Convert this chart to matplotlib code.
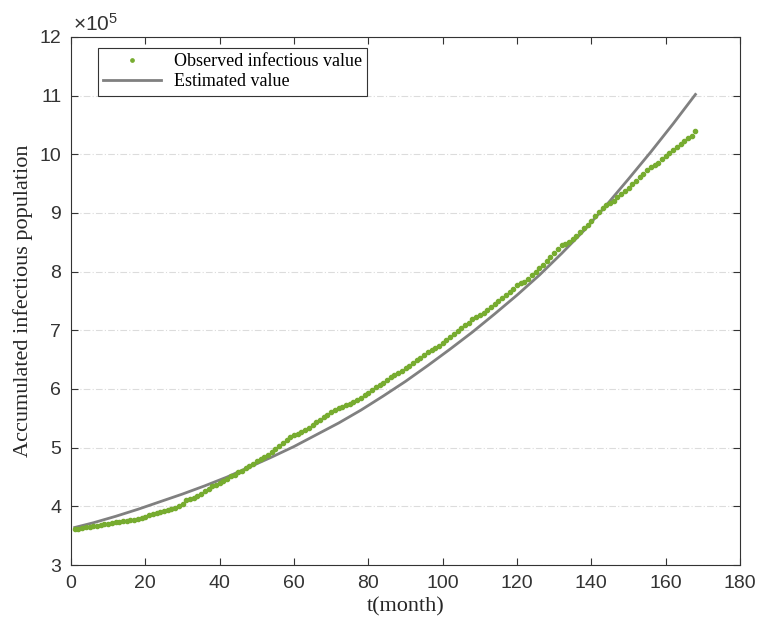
import numpy as np
import matplotlib
matplotlib.use("Agg")
import matplotlib.pyplot as plt

plt.rcParams['font.family'] = ['Liberation Sans', 'DejaVu Sans']
plt.rcParams['mathtext.fontset'] = 'custom'
plt.rcParams['mathtext.rm'] = 'Liberation Sans'
plt.rcParams['mathtext.it'] = 'Liberation Sans:italic'

# observed accumulated infections (x 10^5), months 1..168
observed = [
    3.610, 3.620, 3.630, 3.640, 3.650, 3.660, 3.670, 3.680, 3.695, 3.705, 3.715, 3.725,
    3.735, 3.745, 3.755, 3.765, 3.775, 3.790, 3.805, 3.825, 3.845, 3.865, 3.885, 3.905,
    3.92, 3.94, 3.96, 3.98, 4.00, 4.04, 4.10, 4.13, 4.15, 4.17, 4.21, 4.26,
    4.30, 4.34, 4.37, 4.40, 4.43, 4.47, 4.51, 4.54, 4.58, 4.61, 4.65, 4.69,
    4.72, 4.77, 4.81, 4.84, 4.88, 4.93, 4.98, 5.03, 5.08, 5.13, 5.18, 5.21,
    5.24, 5.26, 5.30, 5.34, 5.38, 5.44, 5.48, 5.52, 5.56, 5.60, 5.64, 5.67,
    5.70, 5.72, 5.74, 5.78, 5.81, 5.85, 5.90, 5.94, 5.99, 6.03, 6.07, 6.11,
    6.16, 6.20, 6.24, 6.27, 6.31, 6.35, 6.40, 6.44, 6.49, 6.53, 6.58, 6.63,
    6.67, 6.70, 6.74, 6.79, 6.84, 6.89, 6.94, 6.99, 7.04, 7.09, 7.13, 7.19,
    7.23, 7.26, 7.30, 7.35, 7.40, 7.45, 7.50, 7.55, 7.61, 7.66, 7.71, 7.77,
    7.80, 7.83, 7.88, 7.94, 7.99, 8.06, 8.12, 8.18, 8.25, 8.31, 8.38, 8.45,
    8.47, 8.50, 8.55, 8.61, 8.67, 8.74, 8.80, 8.87, 8.94, 9.02, 9.08, 9.14,
    9.17, 9.20, 9.27, 9.32, 9.37, 9.43, 9.49, 9.55, 9.61, 9.67, 9.73, 9.78,
    9.82, 9.86, 9.92, 9.97, 10.03, 10.08, 10.12, 10.17, 10.22, 10.27, 10.32, 10.40,
]
months = np.arange(1, len(observed) + 1)

# estimated (model) curve (x 10^5)
est_months = [1, 6, 12, 18, 24, 30, 36, 42, 48, 54, 60, 66, 72, 78, 84,
              90, 96, 102, 108, 114, 120, 126, 132, 138, 144, 150, 156, 162, 168]
estimated = [3.64, 3.72, 3.83, 3.95, 4.08, 4.21, 4.35, 4.50, 4.67, 4.84, 5.02,
             5.22, 5.42, 5.64, 5.88, 6.13, 6.40, 6.68, 6.97, 7.28, 7.60, 7.94,
             8.31, 8.70, 9.13, 9.58, 10.04, 10.52, 11.02]

green = '#77AC30'
grey = '#808080'
axcol = '#333333'
serif = ['Liberation Serif', 'DejaVu Serif']

fig = plt.figure(figsize=(7.58, 6.26), dpi=100)
ax = fig.add_axes([0.0937, 0.0974, 0.8826, 0.8436])

ax.plot(months, observed, '.', color=green, markersize=6, label='Observed infectious value', zorder=3)
ax.plot(est_months, estimated, '-', color=grey, linewidth=2.0, label='Estimated value', zorder=2)

ax.set_xlim(0, 180)
ax.set_ylim(3, 12)
ax.set_xticks(np.arange(0, 181, 20))
ax.set_yticks(np.arange(3, 13, 1))
ax.tick_params(direction='in', length=5, top=True, right=True, labelsize=14,
               colors=axcol, width=0.8)
ax.tick_params(axis='x', pad=7)
ax.tick_params(axis='y', pad=7)
for sp in ax.spines.values():
    sp.set_color(axcol)
    sp.set_linewidth(0.8)
ax.yaxis.grid(True, linestyle=(0, (6, 2, 1, 2)), color='#dcdcdc', linewidth=0.8)
ax.set_axisbelow(True)

ax.text(0.003, 1.004, r'$\times10^{5}$', transform=ax.transAxes, fontsize=15,
        color=axcol, ha='left', va='bottom')

ax.set_xlabel('t(month)', fontsize=16, family=serif, color='#262626', labelpad=4)
ax.set_ylabel('Accumulated infectious population', fontsize=16, family=serif,
              color='#262626', labelpad=5)

leg = ax.legend(loc='upper left', bbox_to_anchor=(0.040, 0.979), borderaxespad=0,
                prop={'family': serif, 'size': 13}, fancybox=False, framealpha=1,
                edgecolor=axcol, handlelength=3.2, handletextpad=0.7, borderpad=0.3,
                labelspacing=0.15, markerscale=0.8)
leg.get_frame().set_linewidth(0.8)

fig.savefig('out.png', dpi=100)
